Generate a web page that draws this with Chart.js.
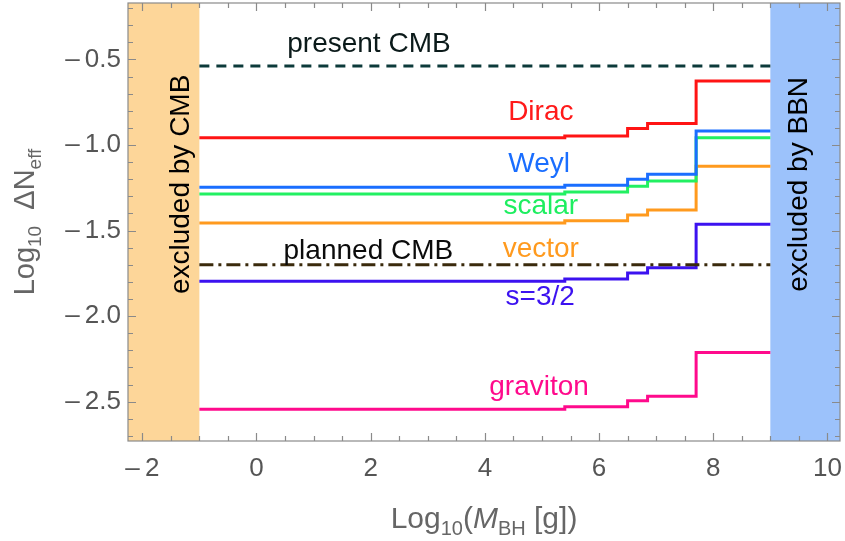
<!DOCTYPE html>
<html>
<head>
<meta charset="utf-8">
<script src="https://cdn.jsdelivr.net/npm/chart.js@4/dist/chart.umd.min.js"></script>
<style>
html, body { margin: 0; padding: 0; background: #fff; }
#wrap { width: 845px; height: 541px; }
</style>
</head>
<body>
<div id="wrap"><canvas id="myChart"></canvas></div>
<script>
// step edges, Log10(M_BH [g])
var step_x = [-1, 5.4, 6.5, 6.85, 7.7, 9];
// Log10 dNeff on each step
var dirac    = [-0.957, -0.948, -0.904, -0.875, -0.626];
var weyl     = [-1.247, -1.235, -1.200, -1.171, -0.918];
var scalar   = [-1.286, -1.275, -1.241, -1.210, -0.957];
var vector   = [-1.456, -1.442, -1.409, -1.380, -1.124];
var spin32   = [-1.797, -1.783, -1.748, -1.717, -1.463];
var graviton = [-2.544, -2.530, -2.495, -2.468, -2.213];
// CMB limits
var present_cmb = -0.538;
var planned_cmb = -1.70;
// excluded regions (x)
var cmb_region = [-2.25, -1];
var bbn_region = [9, 10.22];
// tick values
var x_major = [-2, 0, 2, 4, 6, 8, 10];
var y_major = [-2.5, -2.0, -1.5, -1.0, -0.5];

var FONT = '"Liberation Sans", Arial, sans-serif';

function steps(levels) {
    var pts = [];
    for (var i = 0; i < levels.length; i++) pts.push({x: step_x[i], y: levels[i]});
    pts.push({x: step_x[step_x.length - 1], y: levels[levels.length - 1]});
    return pts;
}
function flat(v) {
    return [{x: step_x[0], y: v}, {x: step_x[step_x.length - 1], y: v}];
}
function fmt(v, d, gap) {
    var s = Math.abs(v).toFixed(d);
    return v < 0 ? '\u2013' + gap + s : s;
}

// curve labels: text, colour, x, baseline y (data units)
var curve_labels = [
    ['present CMB', '#0b1a1a', 1.97, -0.456],
    ['Dirac', '#ff1a1a', 4.98, -0.852],
    ['Weyl', '#1a6eff', 4.95, -1.158],
    ['scalar', '#1eee60', 4.98, -1.406],
    ['vector', '#ff9a1e', 4.98, -1.655],
    ['planned CMB', '#0b0b0b', 1.96, -1.664],
    ['s=3/2', '#3c12f0', 4.97, -1.937],
    ['graviton', '#ff0a8c', 4.95, -2.462]
];

function richText(ctx, parts, x, y) {
    var w = 0;
    parts.forEach(function (p) {
        ctx.font = (p[2] || '') + ' ' + p[1] + 'px ' + FONT;
        p.w = ctx.measureText(p[0]).width;
        w += p.w;
    });
    var cx = x - w / 2;
    parts.forEach(function (p) {
        ctx.font = (p[2] || '') + ' ' + p[1] + 'px ' + FONT;
        ctx.fillText(p[0], cx, y + (p[3] || 0));
        cx += p.w;
    });
}

var decor = {
    id: 'decor',
    beforeDatasetsDraw: function (chart) {
        var ctx = chart.ctx, a = chart.chartArea, xs = chart.scales.x, ys = chart.scales.y;
        ctx.save();
        var x0 = Math.max(a.left, xs.getPixelForValue(cmb_region[0]));
        var x1 = xs.getPixelForValue(cmb_region[1]);
        ctx.fillStyle = '#fdd699';
        ctx.fillRect(x0, a.top, x1 - x0, a.bottom - a.top);
        var b0 = xs.getPixelForValue(bbn_region[0]);
        var b1 = Math.min(a.right, xs.getPixelForValue(bbn_region[1]));
        ctx.fillStyle = '#9cc2fb';
        ctx.fillRect(b0, a.top, b1 - b0, a.bottom - a.top);

        ctx.fillStyle = '#000';
        ctx.font = '28px ' + FONT;
        ctx.textAlign = 'center';
        ctx.textBaseline = 'alphabetic';
        [['excluded by CMB', -1.19], ['excluded by BBN', 9.64]].forEach(function (t) {
            ctx.save();
            ctx.translate(xs.getPixelForValue(t[1]), ys.getPixelForValue(-1.23));
            ctx.rotate(-Math.PI / 2);
            ctx.fillText(t[0], 0, 0);
            ctx.restore();
        });
        ctx.restore();
    },
    afterDatasetsDraw: function (chart) {
        var ctx = chart.ctx, a = chart.chartArea, xs = chart.scales.x, ys = chart.scales.y;
        ctx.save();
        ctx.textAlign = 'center';
        ctx.textBaseline = 'alphabetic';
        ctx.font = '28px ' + FONT;
        curve_labels.forEach(function (l) {
            ctx.fillStyle = l[1];
            ctx.fillText(l[0], xs.getPixelForValue(l[2]), ys.getPixelForValue(l[3]));
        });

        // frame with inward ticks
        ctx.strokeStyle = '#8a8a8a';
        ctx.lineWidth = 1.2;
        ctx.strokeRect(a.left, a.top, a.right - a.left, a.bottom - a.top);
        ctx.beginPath();
        for (var v = -2; v <= 10.01; v += 0.5) {
            var px = Math.round(xs.getPixelForValue(v)) + 0.5;
            var len = Math.abs(v - Math.round(v / 2) * 2) < 1e-6 ? 8 : 5;
            ctx.moveTo(px, a.bottom); ctx.lineTo(px, a.bottom - len);
            ctx.moveTo(px, a.top); ctx.lineTo(px, a.top + len);
        }
        for (var k = -27; k <= -2; k++) {
            var py = Math.round(ys.getPixelForValue(k / 10)) + 0.5;
            var ln = k % 5 === 0 ? 8 : 5;
            ctx.moveTo(a.left, py); ctx.lineTo(a.left + ln, py);
            ctx.moveTo(a.right, py); ctx.lineTo(a.right - ln, py);
        }
        ctx.stroke();

        // axis titles
        ctx.fillStyle = '#666';
        ctx.textAlign = 'left';
        richText(ctx, [['Log', 30], ['10', 20, '', 7], ['(', 30], ['M', 30, 'italic'], ['BH', 20, '', 7], [' [g])', 30]],
            (a.left + a.right) / 2, 528);
        ctx.save();
        ctx.translate(34, (a.top + a.bottom) / 2);
        ctx.rotate(-Math.PI / 2);
        richText(ctx, [['Log', 29], ['10', 19, '', 7], ['  \u0394N', 29], ['eff', 19, '', 7]], 0, 0);
        ctx.restore();
        ctx.restore();
    }
};

function line(label, data, color, dash) {
    return {
        label: label,
        data: data,
        showLine: true,
        stepped: 'before',
        borderColor: color,
        backgroundColor: color,
        borderWidth: 3,
        borderDash: dash || [],
        pointRadius: 0,
        fill: false
    };
}

function noPad(s) {
    s.paddingTop = 0; s.paddingBottom = 0; s.paddingLeft = 0; s.paddingRight = 0;
}

var ctx = document.getElementById('myChart');
var myChart = new Chart(ctx, {
    type: 'scatter',
    data: {
        datasets: [
            line('present CMB', flat(present_cmb), '#0c3a3a', [10, 7]),
            line('planned CMB', flat(planned_cmb), '#3a2a0c', [14, 5, 3, 5]),
            line('Dirac', steps(dirac), '#ff1414'),
            line('Weyl', steps(weyl), '#1a6eff'),
            line('scalar', steps(scalar), '#22f062'),
            line('vector', steps(vector), '#ff9a1e'),
            line('s=3/2', steps(spin32), '#3c12f0'),
            line('graviton', steps(graviton), '#ff0a8c')
        ]
    },
    options: {
        responsive: true,
        maintainAspectRatio: false,
        animation: false,
        layout: { padding: { top: 3, right: 5, left: 0, bottom: 0 } },
        plugins: { legend: { display: false }, tooltip: { enabled: false } },
        scales: {
            x: {
                type: 'linear',
                min: -2.25,
                max: 10.22,
                afterFit: function (s) { s.height = 100; noPad(s); },
                afterBuildTicks: function (s) { s.ticks = x_major.map(function (v) { return {value: v}; }); },
                grid: { display: false, drawTicks: false },
                border: { display: false },
                ticks: {
                    font: { size: 26, family: FONT },
                    color: '#555',
                    padding: 12,
                    maxRotation: 0,
                    callback: function (v) { return fmt(v, 0, '\u2009'); }
                }
            },
            y: {
                type: 'linear',
                min: -2.73,
                max: -0.17,
                afterFit: function (s) { s.width = 128; noPad(s); },
                afterBuildTicks: function (s) { s.ticks = y_major.map(function (v) { return {value: v}; }); },
                grid: { display: false, drawTicks: false },
                border: { display: false },
                ticks: {
                    font: { size: 26, family: FONT },
                    color: '#555',
                    padding: 7,
                    callback: function (v) { return fmt(v, 1, '\u2009'); }
                }
            }
        }
    },
    plugins: [decor]
});
</script>
</body>
</html>
